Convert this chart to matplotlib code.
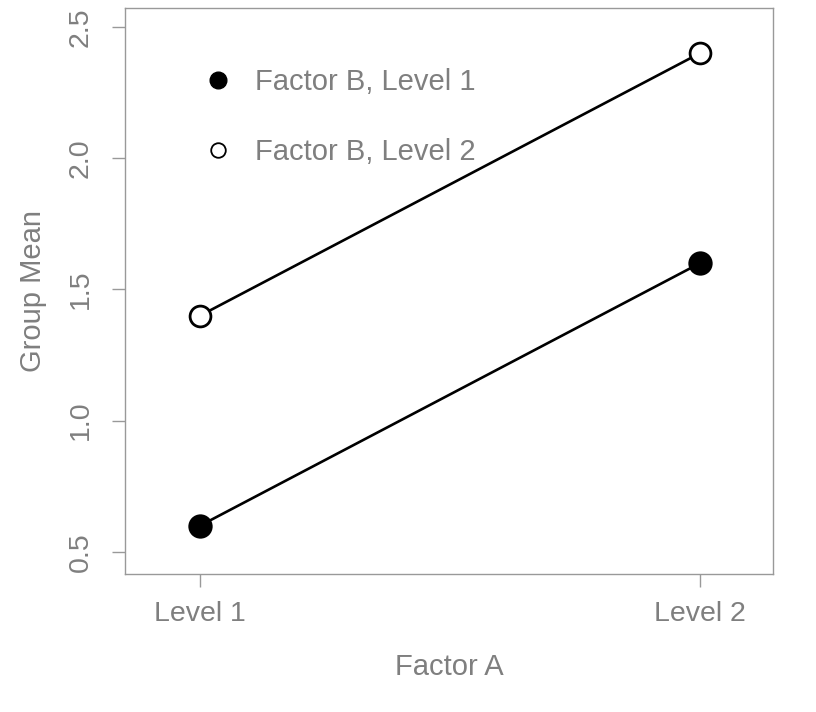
import matplotlib
matplotlib.use("Agg")
import matplotlib.pyplot as plt
from matplotlib.lines import Line2D

plt.rcParams['font.family'] = ['Liberation Sans', 'DejaVu Sans']

levels_a = [1, 2]
level_labels = ["Level 1", "Level 2"]
means_b1 = [0.6, 1.6]
means_b2 = [1.4, 2.4]
legend_labels = ["Factor B, Level 1", "Factor B, Level 2"]
y_ticks = [0.5, 1.0, 1.5, 2.0, 2.5]

GRAY = "#7f7f7f"
SPINE = "#999999"

fig = plt.figure(figsize=(8.16, 7.12), dpi=100)
W, H = 816, 712
ax = fig.add_axes([125 / W, 1 - 574 / H, (773 - 125) / W, (574 - 8) / H])

ax.plot(levels_a, means_b1, color="black", lw=1.9, marker="o", ms=16,
        mfc="black", mec="black", mew=1.5, zorder=3)
ax.plot(levels_a, means_b2, color="black", lw=1.9, marker="o", ms=15,
        mfc="white", mec="black", mew=2.0, zorder=3)

ax.set_xlim(0.85, 2.146)
ax.set_ylim(0.416, 2.572)

ax.set_xticks(levels_a)
ax.set_xticklabels(level_labels)
ax.set_yticks(y_ticks)
ax.set_yticklabels([f"{v:.1f}" for v in y_ticks], rotation=90, va="center")

ax.tick_params(axis="both", colors=SPINE, labelcolor=GRAY, labelsize=20.5,
               length=9.5, width=1.0)
ax.tick_params(axis="x", pad=10)
ax.tick_params(axis="y", pad=13)
for s in ax.spines.values():
    s.set_color(SPINE)
    s.set_linewidth(1.0)

ax.set_xlabel("Factor A", color=GRAY, fontsize=21, labelpad=18.5)
ax.set_ylabel("Group Mean", color=GRAY, fontsize=21, labelpad=15)

handles = [
    Line2D([], [], ls="none", marker="o", ms=12, mfc="black", mec="black"),
    Line2D([], [], ls="none", marker="o", ms=10.5, mfc="white", mec="black", mew=1.3),
]
leg = ax.legend(handles, legend_labels, loc="upper left",
                bbox_to_anchor=(0.127, 0.894), frameon=False, fontsize=21,
                handlelength=0.7, handletextpad=0.95, labelspacing=1.45,
                borderpad=0, borderaxespad=0)
for t in leg.get_texts():
    t.set_color(GRAY)

fig.savefig("out.png", dpi=100)
